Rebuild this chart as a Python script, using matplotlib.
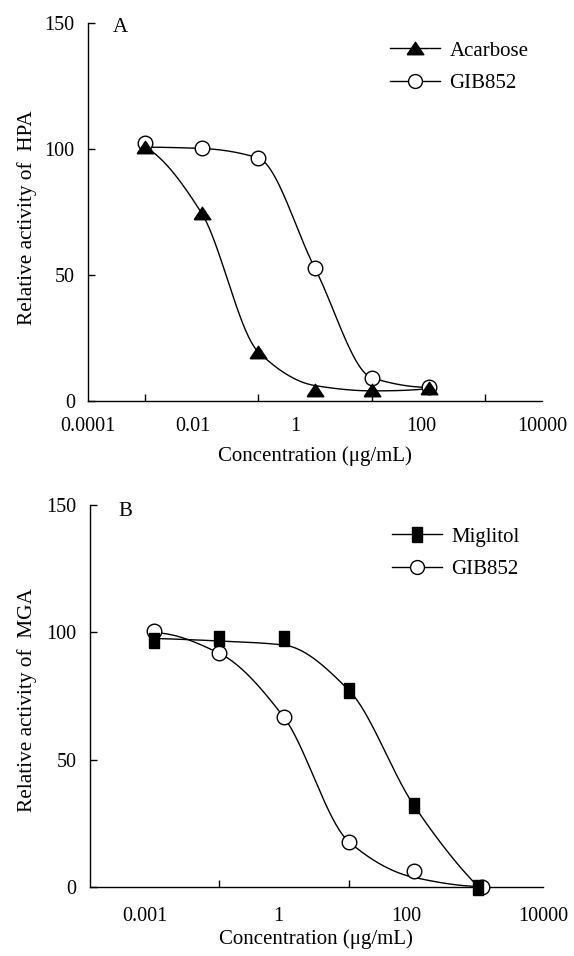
import numpy as np
import matplotlib
matplotlib.use("Agg")
import matplotlib.pyplot as plt
from matplotlib.lines import Line2D

plt.rcParams['font.family'] = ['Liberation Serif', 'DejaVu Serif']

# --- data ---
conc = [0.001, 0.01, 0.1, 1, 10, 100]
conc_b_gib = [0.001, 0.01, 0.1, 1, 10, 115]

# panel A (HPA)
acarbose = [100.7, 74.5, 19.4, 4.4, 4.2, 5.0]
acarbose_fit = [100.7, 74.5, 19.4, 6.0, 3.9, 4.8]
gib_a = [102.1, 100.1, 96.3, 52.5, 9.1, 5.3]
gib_a_fit = [100.6, 100.1, 96.3, 52.5, 9.1, 5.3]

# panel B (MGA)
miglitol = [97.0, 97.6, 97.9, 77.3, 32.2, 0.0]
miglitol_fit = [97.6, 96.6, 95.0, 77.3, 32.2, 0.0]
gib_b = [100.5, 91.8, 66.6, 17.8, 6.4, 0.1]
gib_b_fit = [99.8, 91.8, 66.6, 17.8, 3.8, 0.2]

# axis tick labels (placed where the original puts them, in log10 units)
a_labels = ['0.0001', '0.01', '1', '100', '10000']
a_label_pos = [-4.0, -2.155, -0.35, 1.877, 4.0]
b_labels = ['0.001', '1', '100', '10000']
b_label_pos = [-3.144, -1.088, 0.893, 3.0]
a_ticks = [1e-3, 1e-1, 1e1, 1e3]
b_ticks = [1e-2, 1e0, 1e2]
yticks = [0, 50, 100, 150]


def smooth(xs, ys, n=60):
    # monotone cubic (pchip) through the fit points, in log-x space
    x = np.log10(np.asarray(xs, float))
    y = np.asarray(ys, float)
    h = np.diff(x)
    s = np.diff(y) / h
    d = np.zeros_like(y)
    for k in range(1, len(y) - 1):
        if s[k - 1] * s[k] > 0:
            w1 = 2 * h[k] + h[k - 1]
            w2 = h[k] + 2 * h[k - 1]
            d[k] = (w1 + w2) / (w1 / s[k - 1] + w2 / s[k])
    d[0] = ((2 * h[0] + h[1]) * s[0] - h[0] * s[1]) / (h[0] + h[1])
    if d[0] * s[0] <= 0:
        d[0] = 0
    d[-1] = ((2 * h[-1] + h[-2]) * s[-1] - h[-1] * s[-2]) / (h[-1] + h[-2])
    if d[-1] * s[-1] <= 0:
        d[-1] = 0
    t = np.linspace(0, 1, n)
    xo, yo = [], []
    for k in range(len(h)):
        h00 = 2 * t ** 3 - 3 * t ** 2 + 1
        h10 = t ** 3 - 2 * t ** 2 + t
        h01 = -2 * t ** 3 + 3 * t ** 2
        h11 = t ** 3 - t ** 2
        xo.append(x[k] + t * h[k])
        yo.append(h00 * y[k] + h10 * h[k] * d[k] + h01 * y[k + 1] + h11 * h[k] * d[k + 1])
    return 10 ** np.concatenate(xo), np.concatenate(yo)


tri = [(-1, -0.75), (1, -0.75), (0, 0.75), (-1, -0.75)]
rect = [(-0.67, -1), (0.67, -1), (0.67, 1), (-0.67, 1), (-0.67, -1)]

W, H = 574, 956
fig = plt.figure(figsize=(W / 100, H / 100), dpi=100)
axA = fig.add_axes([88 / W, 1 - 400.7 / H, (542 - 88) / W, (400.7 - 22.7) / H])
axB = fig.add_axes([89.5 / W, 1 - 887 / H, (543.3 - 89.5) / W, (887 - 505) / H])


def style(ax, xlim, ticks, lab_pos, labels, xpad):
    ax.set_xscale('log')
    ax.set_xlim(*xlim)
    ax.set_ylim(0, 150)
    for s in ['top', 'right']:
        ax.spines[s].set_visible(False)
    for s in ['left', 'bottom']:
        ax.spines[s].set_linewidth(1.0)
    ax.set_xticks(ticks)
    ax.set_xticklabels([''] * len(ticks))
    ax.set_xticks(10.0 ** np.array(lab_pos), labels, minor=True)
    ax.tick_params(axis='x', which='major', direction='in', length=5, width=1.0)
    ax.tick_params(axis='x', which='minor', length=0, pad=xpad, labelsize=14.5)
    ax.set_yticks(yticks)
    ax.tick_params(axis='y', direction='in', length=5, width=1.0, pad=9.5, labelsize=14.5)


style(axA, (1e-4, 1e4), a_ticks, a_label_pos, a_labels, 11.5)
style(axB, (1e-4, 1e3), b_ticks, b_label_pos, b_labels, 14.5)

lw = 1.0
# panel A
x, y = smooth(conc, acarbose_fit)
axA.plot(x, y, color='k', lw=lw, zorder=2)
x, y = smooth(conc, gib_a_fit)
axA.plot(x, y, color='k', lw=lw, zorder=2)
axA.plot(conc, gib_a, ls='none', marker='o', ms=10.5, mfc='white', mec='k', mew=1.0, zorder=3, clip_on=False)
axA.plot(conc, acarbose, ls='none', marker=tri, ms=12, mfc='k', mec='k', zorder=4, clip_on=False)

# panel B
x, y = smooth(conc, miglitol_fit)
axB.plot(x, y, color='k', lw=lw, zorder=2)
x, y = smooth(conc_b_gib, gib_b_fit)
axB.plot(x, y, color='k', lw=lw, zorder=2)
axB.plot(conc_b_gib, gib_b, ls='none', marker='o', ms=10.5, mfc='white', mec='k', mew=1.0, zorder=3, clip_on=False)
axB.plot(conc, miglitol, ls='none', marker=rect, ms=10.8, mfc='k', mec='k', zorder=4, clip_on=False)

# legends
leg_kw = dict(loc='upper left', bbox_transform=fig.transFigure, frameon=False, fontsize=15,
              handlelength=2.4, handletextpad=0.45, labelspacing=0.62, borderpad=0, borderaxespad=0)
hA = [Line2D([], [], color='k', lw=lw, marker=tri, ms=12, mfc='k', mec='k'),
      Line2D([], [], color='k', lw=lw, marker='o', ms=10, mfc='white', mec='k', mew=1.0)]
axA.legend(hA, ['Acarbose', 'GIB852'], bbox_to_anchor=(390 / W, 1 - 41 / H), **leg_kw)
hB = [Line2D([], [], color='k', lw=lw, marker=rect, ms=10.8, mfc='k', mec='k'),
      Line2D([], [], color='k', lw=lw, marker='o', ms=10, mfc='white', mec='k', mew=1.0)]
axB.legend(hB, ['Miglitol', 'GIB852'], bbox_to_anchor=(392 / W, 1 - 527 / H), **leg_kw)

# panel letters and axis titles
fig.text(113 / W, 1 - 32.3 / H, 'A', fontsize=15, va='baseline')
fig.text(118 / W, 1 - 516 / H, 'B', fontsize=15, va='baseline')
fig.text(27 / W, 1 - 217.5 / H, 'Relative activity of  HPA', rotation=90, fontsize=15.3,
         ha='center', va='center')
fig.text(27 / W, 1 - 700 / H, 'Relative activity of  MGA', rotation=90, fontsize=15.3,
         ha='center', va='center')
fig.text(315 / W, 1 - 461 / H, 'Concentration (μg/mL)', fontsize=15, ha='center', va='baseline')
fig.text(316 / W, 1 - 944 / H, 'Concentration (μg/mL)', fontsize=15, ha='center', va='baseline')

fig.savefig('out.png', dpi=100)
